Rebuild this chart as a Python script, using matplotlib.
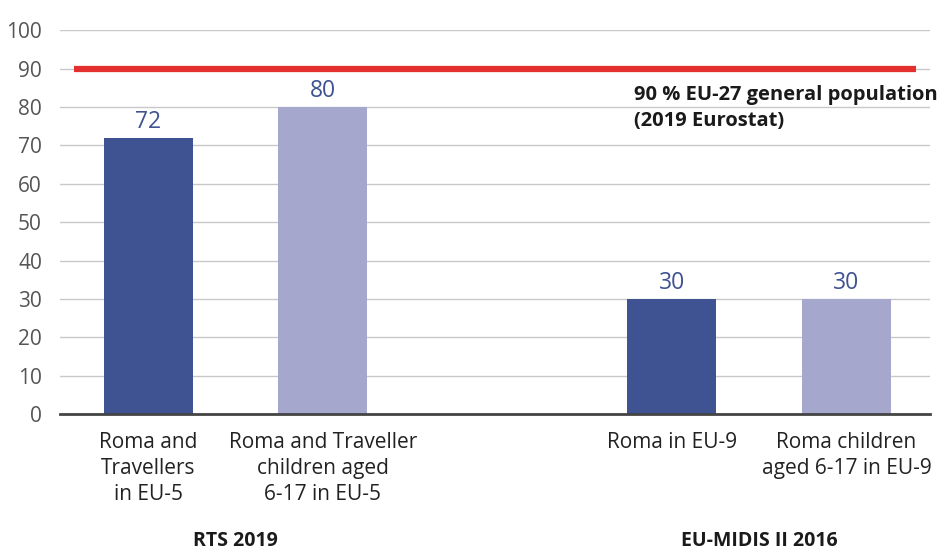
import matplotlib.pyplot as plt

# data
categories = ['Roma and\nTravellers\nin EU-5', 'Roma and Traveller\nchildren aged\n6-17 in EU-5',
              'Roma in EU-9', 'Roma children\naged 6-17 in EU-9']
positions = [0, 1, 3, 4]
values = [72, 80, 30, 30]
groups = ['RTS 2019', 'EU-MIDIS II 2016']
group_pos = [0.5, 3.5]
reference_value = 90
reference_label = '90 % EU-27 general population\n(2019 Eurostat)'

dark = '#3f5291'
light = '#a5a8cc'
colors = [dark, light, dark, light]

plt.rcParams['font.family'] = ['Open Sans', 'DejaVu Sans']

fig = plt.figure(figsize=(9.53, 5.5), dpi=100)
ax = fig.add_axes([0.063, 0.247, 0.913, 0.698])

bars = ax.bar(positions, values, width=0.51, color=colors, zorder=2)
for x, v in zip(positions, values):
    ax.text(x, v + 1.1, str(v), ha='center', va='bottom', fontsize=16.5, color=dark)

ax.plot([-0.427, 4.40], [reference_value, reference_value], color='#e3302f', lw=4.5, zorder=3,
        solid_capstyle='butt')
ax.text(2.78, 85.8, reference_label, ha='left', va='top', fontsize=14.5, fontweight='bold',
        color='#1a1a1a', linespacing=1.4)

ax.set_xlim(-0.507, 4.48)
ax.set_ylim(0, 100)
ax.set_yticks(range(0, 101, 10))
ax.yaxis.grid(True, color='#c8c8c8', lw=1)
ax.set_axisbelow(True)
for s in ['top', 'right', 'left']:
    ax.spines[s].set_visible(False)
ax.spines['bottom'].set_color('#444444')
ax.spines['bottom'].set_linewidth(2)
ax.tick_params(axis='y', length=0, labelsize=15, labelcolor='#555555', pad=13)
ax.set_xticks(positions)
ax.set_xticklabels(categories, fontsize=15, color='#222222', linespacing=1.3)
ax.tick_params(axis='x', length=0, pad=13)

for gx, g in zip(group_pos, groups):
    ax.text(gx, -0.33, g, transform=ax.get_xaxis_transform(), ha='center', va='center',
            fontsize=14, fontweight='bold', color='#1a1a1a')

fig.savefig('out.png', dpi=100)
